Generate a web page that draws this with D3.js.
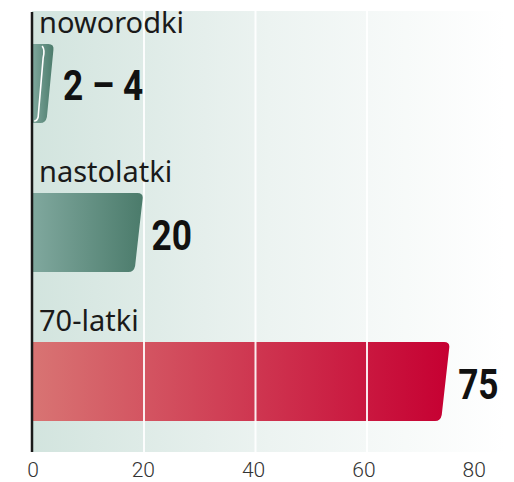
<!DOCTYPE html>
<html>
<head>
<meta charset="utf-8">
<script src="https://cdn.jsdelivr.net/npm/d3@7"></script>
<style>
  html, body { margin: 0; padding: 0; background: #fff; }
  svg { display: block; }
</style>
</head>
<body>
<script>
const categories = ['noworodki', 'nastolatki', '70-latki']
const values = [4, 20, 75]
const rangeLow = [2, null, null]
const valueLabels = ['2 – 4', '20', '75']
const ticks = [0, 20, 40, 60, 80]

const width = 514
const height = 482

const x = d3.scaleLinear().domain([0, 80]).range([32, 478])
const y = d3.scaleBand().domain(categories).range([44, 421]).paddingInner(0.47).paddingOuter(0)

const svg = d3.select('body').append('svg').attr('width', width).attr('height', height)
const defs = svg.append('defs')

const bg = defs.append('linearGradient').attr('id', 'bg')
bg.append('stop').attr('offset', '0%').attr('stop-color', '#d2e4de')
bg.append('stop').attr('offset', '50%').attr('stop-color', '#ecf3f1')
bg.append('stop').attr('offset', '100%').attr('stop-color', '#ffffff')

const gradGreen = defs.append('linearGradient').attr('id', 'green')
gradGreen.append('stop').attr('offset', '0%').attr('stop-color', '#80a89e')
gradGreen.append('stop').attr('offset', '100%').attr('stop-color', '#4b7b6b')

const gradRed = defs.append('linearGradient').attr('id', 'red')
gradRed.append('stop').attr('offset', '0%').attr('stop-color', '#d87473')
gradRed.append('stop').attr('offset', '100%').attr('stop-color', '#c60032')

const fills = ['url(#green)', 'url(#green)', 'url(#red)']

// panel
svg.append('rect')
  .attr('x', x(0)).attr('y', 11)
  .attr('width', 505 - x(0)).attr('height', 452 - 11)
  .attr('fill', 'url(#bg)')

// bar shape with slanted, rounded right edge
function barPath(x0, x1, y0, h, slant, r) {
  const xb = x1 - slant
  return `M${x0},${y0}
    L${x1 - r},${y0}
    Q${x1},${y0} ${x1 - r * 0.15},${y0 + r}
    L${xb + r * 0.1},${y0 + h - r}
    Q${xb - r * 0.1},${y0 + h} ${xb - r},${y0 + h}
    L${x0},${y0 + h}Z`
}

svg.append('g')
  .selectAll('path')
  .data(categories)
  .join('path')
  .attr('d', (d, i) => barPath(x(0), x(values[i]), y(d), y.bandwidth(), values[i] < 10 ? 8 : 9, 6))
  .attr('fill', (d, i) => fills[i])

// range marker for noworodki
svg.append('g')
  .selectAll('path')
  .data(categories.filter((d, i) => rangeLow[i] != null))
  .join('path')
  .attr('d', d => {
    const v = rangeLow[categories.indexOf(d)]
    const y0 = y(d) + 2, y1 = y(d) + y.bandwidth() - 2
    return `M${x(v) - 1},${y0} Q${x(v) + 2},${y0 + 4} ${x(v)},${y0 + 12} L${x(v) - 5},${y1 - 4} Q${x(v) - 6},${y1} ${x(v) - 9},${y1}`
  })
  .attr('fill', 'none')
  .attr('stroke', '#ffffff')
  .attr('stroke-width', 1.6)

// gridlines
svg.append('g')
  .attr('transform', 'translate(0,452)')
  .call(d3.axisBottom(x).tickValues(ticks.slice(1, -1)).tickSize(-441).tickFormat(''))
  .call(g => g.select('.domain').remove())
  .call(g => g.selectAll('line').attr('stroke', '#ffffff').attr('stroke-width', 2).attr('stroke-opacity', 0.9))

// axis line
svg.append('line')
  .attr('x1', x(0)).attr('x2', x(0))
  .attr('y1', 12).attr('y2', 452)
  .attr('stroke', '#1a1a1a').attr('stroke-width', 2.5)

// tick labels
svg.append('g')
  .selectAll('text')
  .data(ticks)
  .join('text')
  .attr('x', d => x(d) + 1 - d * 0.06)
  .attr('y', 477)
  .attr('text-anchor', 'middle')
  .attr('font-family', 'Roboto, sans-serif')
  .attr('font-weight', 300)
  .attr('font-size', 21)
  .attr('fill', '#333')
  .text(d => d)

// category labels
svg.append('g')
  .selectAll('text')
  .data(categories)
  .join('text')
  .attr('x', 39)
  .attr('y', d => y(d) - 11)
  .attr('font-family', '"Noto Sans", sans-serif')
  .attr('font-size', 29)
  .attr('fill', '#1a1a1a')
  .text(d => d)

// value labels (condensed bold)
svg.append('g')
  .selectAll('text')
  .data(categories)
  .join('text')
  .attr('transform', (d, i) => `translate(${i === 0 ? 63 : x(values[i]) + 8},${y(d) + y.bandwidth() / 2 + 17}) scale(0.84,1)`)
  .attr('font-family', 'Roboto, sans-serif')
  .attr('font-weight', 'bold')
  .attr('font-size', 42)
  .attr('fill', '#111')
  .text((d, i) => valueLabels[i])
</script>
</body>
</html>
